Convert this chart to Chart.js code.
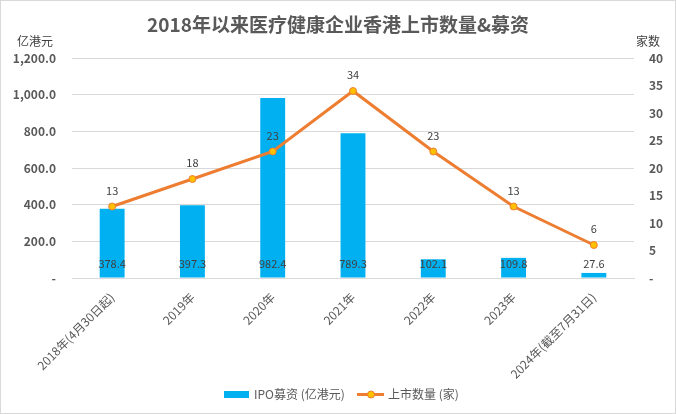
<!DOCTYPE html>
<html>
<head>
<meta charset="utf-8">
<script src="https://cdn.jsdelivr.net/npm/chart.js@4"></script>
<style>
  html, body { margin: 0; padding: 0; background: #fff; }
  #wrap { width: 674px; height: 412px; border: 1px solid #d9d9d9; }
</style>
</head>
<body>
<div id="wrap"><canvas id="myChart" width="674" height="412"></canvas></div>
<script>
// data ------------------------------------------------
const categories = ['2018年(4月30日起)', '2019年', '2020年', '2021年', '2022年', '2023年', '2024年(截至7月31日)'];
const ipoFunds = [378.4, 397.3, 982.4, 789.3, 102.1, 109.8, 27.6];
const listings = [13, 18, 23, 34, 23, 13, 6];

const FONT = '"Noto Sans CJK SC", "Noto Sans", sans-serif';
const GREY = '#595959';

// title, units, value labels and legend
const decor = {
  id: 'decor',
  afterDatasetsDraw(chart) {
    const c = chart.ctx;
    c.save();
    c.fillStyle = '#404040';
    c.font = '11px ' + FONT;
    c.textAlign = 'center';
    c.textBaseline = 'middle';
    chart.getDatasetMeta(0).data.forEach((bar, i) => {
      c.fillText(ipoFunds[i].toFixed(1), bar.x, bar.base - 14);
    });
    chart.getDatasetMeta(1).data.forEach((pt, i) => {
      c.fillText(listings[i], pt.x, pt.y - 16);
    });
    c.restore();
  },
  afterDraw(chart) {
    const c = chart.ctx;
    c.save();
    c.textBaseline = 'middle';
    c.textAlign = 'center';
    c.fillStyle = GREY;
    c.font = 'bold 19px ' + FONT;
    c.fillText('2018年以来医疗健康企业香港上市数量&募资', 337, 24);

    c.fillStyle = '#404040';
    c.font = '12px ' + FONT;
    c.fillText('亿港元', 34, 40);
    c.fillText('家数', 647, 40);

    // legend
    c.fillStyle = '#00B0F0';
    c.fillRect(223, 390, 25, 7);
    c.strokeStyle = '#ED7D31';
    c.lineWidth = 3;
    c.beginPath();
    c.moveTo(356, 393.5);
    c.lineTo(383, 393.5);
    c.stroke();
    c.beginPath();
    c.arc(370, 393.5, 3.5, 0, Math.PI * 2);
    c.fillStyle = '#FFC000';
    c.fill();
    c.lineWidth = 1;
    c.stroke();

    c.fillStyle = GREY;
    c.textAlign = 'left';
    c.fillText('IPO募资 (亿港元)', 253, 393);
    c.fillText('上市数量 (家)', 387, 393);
    c.restore();
  }
};

const ctx = document.getElementById('myChart');

new Chart(ctx, {
  type: 'bar',
  data: {
    labels: categories,
    datasets: [{
      type: 'bar',
      label: 'IPO募资 (亿港元)',
      data: ipoFunds,
      backgroundColor: '#00B0F0',
      barPercentage: 0.31,
      categoryPercentage: 1,
      yAxisID: 'y',
      order: 2,
    }, {
      type: 'line',
      label: '上市数量 (家)',
      data: listings,
      borderColor: '#ED7D31',
      borderWidth: 3,
      pointRadius: 3.5,
      pointBackgroundColor: '#FFC000',
      pointBorderColor: '#ED7D31',
      pointBorderWidth: 1,
      tension: 0,
      yAxisID: 'y1',
      order: 1,
    }]
  },
  plugins: [decor],
  options: {
    responsive: false,
    animation: false,
    layout: { padding: { top: 57, left: 0, right: 0, bottom: 0 } },
    plugins: {
      legend: { display: false },
      tooltip: { enabled: false },
    },
    scales: {
      x: {
        grid: { display: false },
        border: { color: '#d9d9d9' },
        ticks: {
          minRotation: 45,
          maxRotation: 45,
          padding: 4,
          color: GREY,
          font: { family: FONT, size: 12 },
        },
        afterFit(s) { s.height = 135; },
      },
      y: {
        position: 'left',
        min: 0,
        max: 1200,
        border: { display: false },
        grid: { color: '#d9d9d9', drawTicks: false },
        ticks: {
          stepSize: 200,
          padding: 16,
          color: GREY,
          font: { family: FONT, size: 12, weight: 'bold' },
          callback: v => v === 0 ? '-' : v.toLocaleString('en-US', { minimumFractionDigits: 1, maximumFractionDigits: 1 }),
        },
        afterFit(s) { s.width = 71; },
      },
      y1: {
        position: 'right',
        min: 0,
        max: 40,
        border: { display: false },
        grid: { drawOnChartArea: false, drawTicks: false },
        ticks: {
          stepSize: 5,
          padding: 15,
          color: GREY,
          font: { family: FONT, size: 12, weight: 'bold' },
          callback: v => v === 0 ? '-' : v,
        },
        afterFit(s) { s.width = 41; },
      }
    }
  }
});
</script>
</body>
</html>
